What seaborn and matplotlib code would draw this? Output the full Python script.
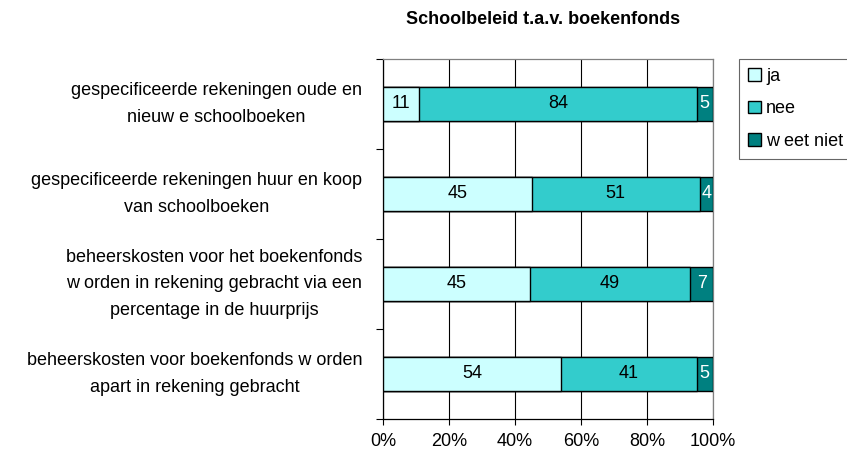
import numpy as np
import pandas as pd
import matplotlib
matplotlib.use("Agg")
import matplotlib.pyplot as plt
import matplotlib.patches as mpatches
import seaborn as sns

# ── Data ───────────────────────────────────────────────────────────────────
CATEGORIES = [
    "gespecificeerde rekeningen oude en\nnieuw e schoolboeken",
    "gespecificeerde rekeningen huur en koop\nvan schoolboeken",
    "beheerskosten voor het boekenfonds\nw orden in rekening gebracht via een\npercentage in de huurprijs",
    "beheerskosten voor boekenfonds w orden\napart in rekening gebracht",
]
JA        = [11, 45, 45, 54]
NEE       = [84, 51, 49, 41]
WEET_NIET = [5, 4, 7, 5]
SERIES    = ["ja", "nee", "w eet niet"]
XTICKS    = [0, 20, 40, 60, 80, 100]

# ── Palette ────────────────────────────────────────────────────────────────
CLR_JA   = "#CCFFFF"
CLR_NEE  = "#33CCCC"
CLR_WEET = "#008080"
FS = 13

sns.set_style("white")
plt.rcParams["font.family"] = ["Liberation Sans", "DejaVu Sans"]
plt.rcParams["text.color"] = "black"
plt.rcParams["xtick.color"] = "black"
plt.rcParams["ytick.color"] = "black"

df = pd.DataFrame({"cat": CATEGORIES, "ja": JA, "nee": NEE, "weet": WEET_NIET})
tot = df[["ja", "nee", "weet"]].sum(axis=1)
df["p_ja"]   = df["ja"] / tot * 100
df["p_nee"]  = df["nee"] / tot * 100
df["p_weet"] = df["weet"] / tot * 100
df["c1"] = df["p_ja"]
df["c2"] = df["p_ja"] + df["p_nee"]
df["c3"] = df["c2"] + df["p_weet"]

fig = plt.figure(figsize=(8.47, 4.57), dpi=100)
ax = fig.add_axes([383/847, 38/457, 330/847, 360/457])

# stacked bars, drawn back to front
for col, clr in [("c3", CLR_WEET), ("c2", CLR_NEE), ("c1", CLR_JA)]:
    sns.barplot(data=df, x=col, y="cat", orient="h", color=clr, saturation=1,
                width=0.38, edgecolor="black", linewidth=1.0, ax=ax, zorder=3)

# value labels
for i, row in df.iterrows():
    ax.text(row["c1"]/2, i, f"{row['ja']}", ha="center", va="center", fontsize=FS, color="black", zorder=5)
    ax.text(row["c1"] + row["p_nee"]/2, i, f"{row['nee']}", ha="center", va="center", fontsize=FS, color="black", zorder=5)
    ax.text(row["c2"] + row["p_weet"]/2, i, f"{row['weet']}", ha="center", va="center", fontsize=FS, color="white", zorder=5)

ax.set_xlim(0, 100)
ax.set_ylim(len(CATEGORIES) - 0.5, -0.5)
ax.set_xticks(XTICKS)
ax.set_xticklabels([f"{t}%" for t in XTICKS], fontsize=FS)
ax.set_xlabel(""); ax.set_ylabel("")
ax.set_yticks(range(len(CATEGORIES)))
ax.set_yticklabels(CATEGORIES, fontsize=FS, multialignment="center", linespacing=1.75)
for lbl in ax.get_yticklabels():
    lbl.set_va("center")
ax.set_yticks(np.arange(-0.5, len(CATEGORIES)), minor=True)
ax.tick_params(axis="y", which="major", left=False, length=0, pad=15)
ax.tick_params(axis="y", which="minor", left=True, length=5, width=0.8, color="black", direction="out")
ax.tick_params(axis="x", bottom=True, length=4, width=0.8, color="black", direction="out", pad=6)
ax.grid(axis="x", color="black", linewidth=0.8, zorder=0)
ax.set_axisbelow(True)
for s in ["left", "bottom"]:
    ax.spines[s].set_color("black"); ax.spines[s].set_linewidth(0.9)
for s in ["top", "right"]:
    ax.spines[s].set_color("#808080"); ax.spines[s].set_linewidth(0.9)

fig.text(543/847, 1 - 20/457, "Schoolbeleid t.a.v. boekenfonds", ha="center", va="center",
         fontsize=FS, fontweight="bold")

handles = [mpatches.Patch(facecolor=c, edgecolor="black", linewidth=1.0, label=l)
           for c, l in zip([CLR_JA, CLR_NEE, CLR_WEET], SERIES)]
leg = fig.legend(handles=handles, loc="upper left", bbox_to_anchor=(739/847, 1 - 59/457),
                 frameon=True, fancybox=False, edgecolor="#404040", fontsize=FS,
                 handlelength=0.7, handleheight=0.7, handletextpad=0.3,
                 labelspacing=0.85, borderpad=0.5, borderaxespad=0)
leg.get_frame().set_linewidth(0.8)

fig.savefig("out.png", dpi=100)
